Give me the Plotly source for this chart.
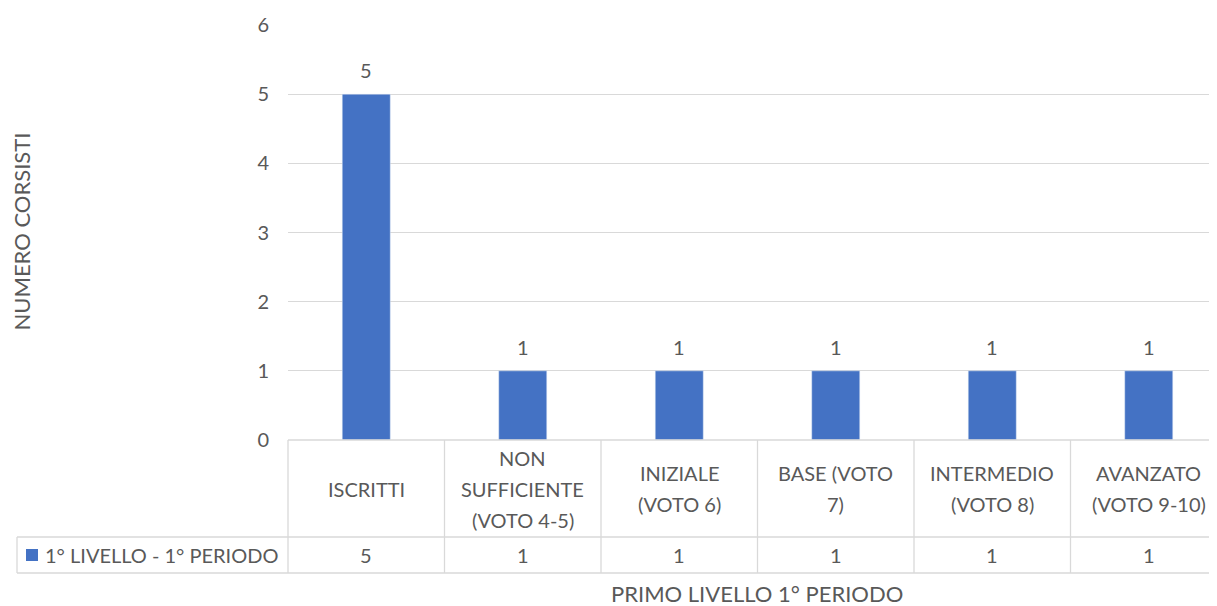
import plotly.graph_objects as go

categories = ["ISCRITTI", "NON\nSUFFICIENTE\n(VOTO 4-5)", "INIZIALE\n(VOTO 6)",
              "BASE (VOTO\n7)", "INTERMEDIO\n(VOTO 8)", "AVANZATO\n(VOTO 9-10)"]
values = [5, 1, 1, 1, 1, 1]
series_name = "1° LIVELLO - 1° PERIODO"
x_title = "PRIMO LIVELLO 1° PERIODO"
y_title = "NUMERO CORSISTI"

# page has an 8px body margin; figure is sized to fill the rest of the window
OFF = 8
W, H = 1217 - OFF, 606 - OFF
L, R, T, B = 288 - OFF, 0, 25 - OFF, 606 - 440
PW = W - L - R
PH = H - T - B
FONT = "Lato, Open Sans, sans-serif"
TXT = "#595959"
GRID = "#d9d9d9"
BLUE = "#4472C4"
FS = 20
FT = 22


def py(pix):  # screen pixel y -> paper y
    return (440 - pix) / PH


def px(pix):  # screen pixel x -> paper x
    return (pix - 288) / PW


n = len(categories)
xs = list(range(n))
CATW = 156.5
x_max = -0.5 + PW / CATW

fig = go.Figure()
fig.add_trace(go.Bar(x=xs, y=values, marker_color=BLUE, width=0.307, name=series_name,
                     hoverinfo="skip"))

shapes = []
line = dict(color=GRID, width=1.3)
y_hdr_top = py(440)
y_row_top = py(537)
y_row_bot = py(573)
x_left = px(17)
shapes.append(dict(type="line", xref="paper", yref="paper", x0=0, x1=1, y0=y_hdr_top, y1=y_hdr_top, line=line))
shapes.append(dict(type="line", xref="paper", yref="paper", x0=x_left, x1=1, y0=y_row_top, y1=y_row_top, line=line))
shapes.append(dict(type="line", xref="paper", yref="paper", x0=x_left, x1=1, y0=y_row_bot, y1=y_row_bot, line=line))
shapes.append(dict(type="line", xref="paper", yref="paper", x0=x_left, x1=x_left, y0=y_row_top, y1=y_row_bot, line=line))
shapes.append(dict(type="line", xref="paper", yref="paper", x0=0, x1=0, y0=y_hdr_top, y1=y_row_bot, line=line))
for i in range(1, n):
    shapes.append(dict(type="line", xref="x", yref="paper", x0=i - 0.5, x1=i - 0.5,
                       y0=y_hdr_top, y1=y_row_bot, line=line))
shapes.append(dict(type="rect", xref="paper", yref="paper", x0=px(26), x1=px(38),
                   y0=py(561), y1=py(549), fillcolor=BLUE, line=dict(width=0)))

ann = []
LH = 31
for i, c in enumerate(categories):
    lines = c.split("\n")
    k = len(lines)
    center = 488.5
    for j, t in enumerate(lines):
        ypix = center + (j - (k - 1) / 2) * LH
        ann.append(dict(x=i, y=py(ypix), xref="x", yref="paper", text=t, showarrow=False,
                        font=dict(size=FS, color=TXT, family=FONT), yanchor="middle"))
    ann.append(dict(x=i, y=py(555), xref="x", yref="paper", text=str(values[i]), showarrow=False,
                    font=dict(size=FS, color=TXT, family=FONT), yanchor="middle"))
    ann.append(dict(x=i, y=values[i], xref="x", yref="y", text=str(values[i]), showarrow=False,
                    font=dict(size=FS, color=TXT, family=FONT), yanchor="middle", yshift=24))
ann.append(dict(x=px(43), y=py(555), xref="paper", yref="paper", text=series_name, showarrow=False,
                xanchor="left", yanchor="middle", font=dict(size=FS, color=TXT, family=FONT)))
ann.append(dict(x=px(757), y=py(593), xref="paper", yref="paper", text=x_title, showarrow=False,
                yanchor="middle", font=dict(size=FT, color=TXT, family=FONT)))
ann.append(dict(x=px(21.5), y=py(232), xref="paper", yref="paper", text=y_title, showarrow=False,
                textangle=-90, xanchor="center", yanchor="middle",
                font=dict(size=FT, color=TXT, family=FONT)))

fig.update_layout(
    width=W, height=H,
    margin=dict(l=L, r=R, t=T, b=B, pad=0),
    plot_bgcolor="white", paper_bgcolor="white",
    showlegend=False,
    shapes=shapes, annotations=ann,
    font=dict(family=FONT, color=TXT, size=FS),
    xaxis=dict(range=[-0.5, x_max], showticklabels=False, showgrid=False, zeroline=False,
               showline=False, ticks="", fixedrange=True),
    yaxis=dict(range=[0, 6], dtick=1, showgrid=True, gridcolor=GRID, gridwidth=1.3,
               zeroline=False, showline=False, ticks="", ticklabelstandoff=18,
               tickfont=dict(size=FS, color=TXT, family=FONT)),
)
fig.write_html("out.html")
